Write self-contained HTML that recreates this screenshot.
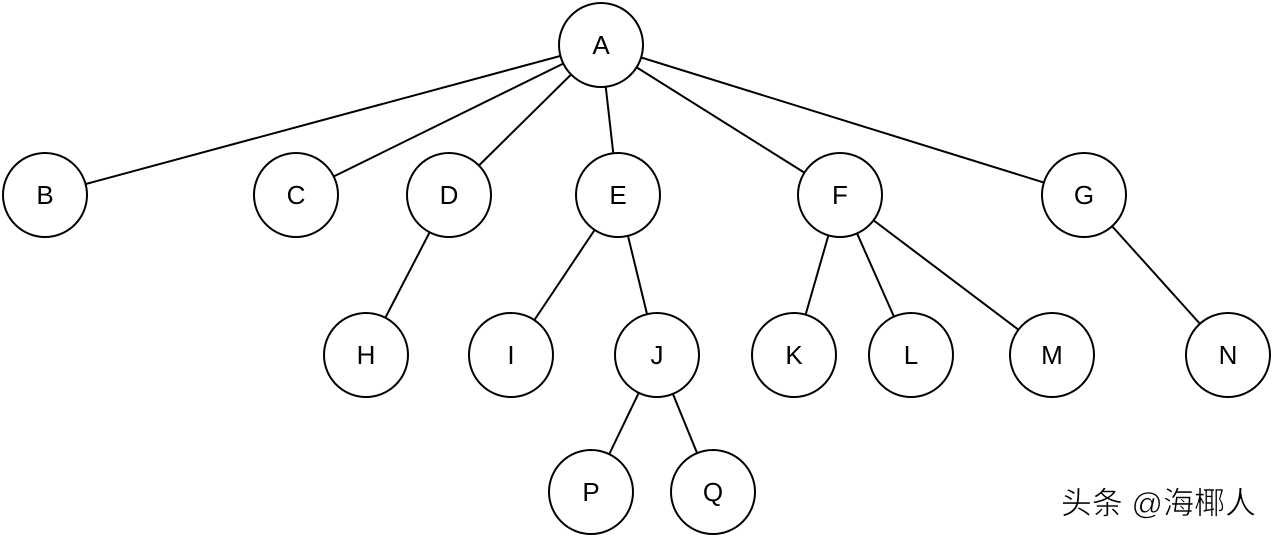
<!DOCTYPE html>
<html><head><meta charset="utf-8"><style>
html,body{margin:0;padding:0;background:#fff;}
</style></head><body>
<svg width="1272" height="536" xmlns="http://www.w3.org/2000/svg" style="display:block">
<g stroke="#000" stroke-width="2" fill="none">
<line x1="601" y1="45" x2="45" y2="195"/>
<line x1="601" y1="45" x2="296" y2="195"/>
<line x1="601" y1="45" x2="449" y2="195"/>
<line x1="601" y1="45" x2="618" y2="195"/>
<line x1="601" y1="45" x2="840" y2="195"/>
<line x1="601" y1="45" x2="1084" y2="195"/>
<line x1="449" y1="195" x2="366" y2="355"/>
<line x1="618" y1="195" x2="511" y2="355"/>
<line x1="618" y1="195" x2="657" y2="355"/>
<line x1="840" y1="195" x2="794" y2="355"/>
<line x1="840" y1="195" x2="911" y2="355"/>
<line x1="840" y1="195" x2="1052" y2="355"/>
<line x1="1084" y1="195" x2="1228" y2="355"/>
<line x1="657" y1="355" x2="591" y2="492"/>
<line x1="657" y1="355" x2="713" y2="492"/>
</g>
<g stroke="#000" stroke-width="2" fill="#fff">
<circle cx="601" cy="45" r="42"/>
<circle cx="45" cy="195" r="42"/>
<circle cx="296" cy="195" r="42"/>
<circle cx="449" cy="195" r="42"/>
<circle cx="618" cy="195" r="42"/>
<circle cx="840" cy="195" r="42"/>
<circle cx="1084" cy="195" r="42"/>
<circle cx="366" cy="355" r="42"/>
<circle cx="511" cy="355" r="42"/>
<circle cx="657" cy="355" r="42"/>
<circle cx="794" cy="355" r="42"/>
<circle cx="911" cy="355" r="42"/>
<circle cx="1052" cy="355" r="42"/>
<circle cx="1228" cy="355" r="42"/>
<circle cx="591" cy="492" r="42"/>
<circle cx="713" cy="492" r="42"/>
</g>
<g font-family="Liberation Sans, sans-serif" font-size="26" text-anchor="middle" fill="#000">
<text x="601" y="54">A</text>
<text x="45" y="204">B</text>
<text x="296" y="204">C</text>
<text x="449" y="204">D</text>
<text x="618" y="204">E</text>
<text x="840" y="204">F</text>
<text x="1084" y="204">G</text>
<text x="366" y="364">H</text>
<text x="511" y="364">I</text>
<text x="657" y="364">J</text>
<text x="794" y="364">K</text>
<text x="911" y="364">L</text>
<text x="1052" y="364">M</text>
<text x="1228" y="364">N</text>
<text x="591" y="501">P</text>
<text x="713" y="501">Q</text>
</g>
<text x="1256" y="514" text-anchor="end" font-family="Liberation Sans, Noto Sans CJK SC, sans-serif" font-size="31" fill="#000" stroke="#fff" stroke-width="0.6">头条 @海椰人</text>
</svg>
</body></html>
